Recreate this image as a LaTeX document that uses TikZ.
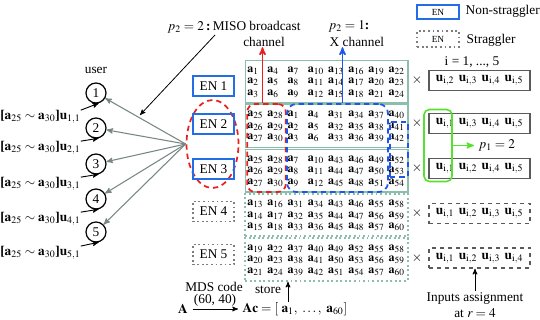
\documentclass[tikz,border=0pt]{standalone}
\usepackage{amsmath}
\usepackage{mathptmx}
\usepackage{fontspec}
\setmainfont{Liberation Serif}
\usepackage{tikz}
\usepackage{xcolor}
\usetikzlibrary{shapes, calc, arrows}
\definecolor{enblue}{RGB}{35,110,230}
\definecolor{matgreen}{RGB}{140,190,172}
\definecolor{laggray}{RGB}{125,125,125}
\definecolor{ugray}{RGB}{90,90,90}
\definecolor{linkgray}{RGB}{120,135,133}
\definecolor{misored}{RGB}{235,30,30}
\definecolor{xblue}{RGB}{30,85,235}
\definecolor{pgreen}{RGB}{85,225,45}
\def\ba{\mathbf a}
\def\bu{\mathbf u}

\begin{document}
\begin{tikzpicture}[x=0.75pt,y=-0.75pt,>=stealth']

    \tikzset{enbox/.style={draw=enblue,line width=1.4pt,minimum width=31pt,minimum height=15pt,inner sep=1pt}}
    \tikzset{lagbox/.style={draw=laggray,line width=1.4pt,dotted,minimum width=31pt,minimum height=15pt,inner sep=1pt}}
    \tikzstyle{user}=[draw,circle,line width=0.9pt,minimum size=15pt,inner sep=0pt]
    \tikzstyle{rowbox}=[draw=matgreen,line width=1pt,minimum width=122pt,minimum height=32pt]
    \tikzstyle{lagrow}=[rowbox,line width=1.4pt,dotted]
    \tikzstyle{entry}=[anchor=base west,inner sep=0pt,font=\small]
    \tikzstyle{ubox}=[draw=ugray,line width=1.2pt,minimum width=76pt,minimum height=15pt,inner sep=1pt]
    \tikzstyle{lagu}=[ubox,dashed]
    \tikzstyle{tolink}=[->,draw=linkgray,line width=0.8pt]
    \tikzstyle{misobox}=[draw=misored,line width=1.3pt,dash pattern=on 4pt off 3pt]
    \tikzstyle{xbox}=[draw=xblue,line width=1.3pt,dash pattern=on 4pt off 3pt]

    \useasboundingbox (0,0) rectangle (540,319);

    % legend
    \node[enbox,minimum height=10.5pt,font=\scriptsize] (legns) at (438,12) {EN};
    \node[anchor=west] (legnstxt) at (461,11) {Non-straggler};
    \node[lagbox,minimum height=12pt,font=\scriptsize] (legst) at (438,39) {EN};
    \node[anchor=west] (legsttxt) at (462,40) {Straggler};

    % channel labels
    \node[anchor=west] (miso) at (163,27) {$p_2=2$\,\textbf{:}\,MISO broadcast};
    \node (misoch) at (264,42) {channel};
    \node[anchor=west] (xlab) at (324,26) {$p_2=1$\textbf{:}};
    \node[anchor=west] (xch) at (325,42) {X channel};
    \coordinate (misofrom) at (215,35);
    \coordinate (misoto) at (140,115);
    \draw[->,line width=0.6pt] (misofrom) -- (misoto);

    % users and edge nodes
    \node (userlab) at (96,70) {user};
    \node[misobox,ellipse,minimum width=39pt,minimum height=66pt,inner sep=0pt] (coop) at (212.5,144) {};
    \foreach \n/\y/\ly in {1/93/117,2/128/148,3/164/184,4/199/219,5/232/253} {
        \node[user] (u\n) at (96,\y) {\n};
        \node[anchor=west,inner sep=0pt] (lab\n) at (0,\ly) {$\textbf{[}\ba_{25}\sim\ba_{30}\textbf{]}\bu_{\n,1}$};
        \draw[->,line width=0.7pt] (lab\n.north east) -- (u\n.285);
        \draw[tolink] (coop.west) -- (u\n);
    }
    \foreach \n/\y/\st in {1/86/enbox,2/124/enbox,3/169/enbox,4/211.5/lagbox,5/254.5/lagbox}
        \node[\st] (en\n) at (213.5,\y) {EN \n};

    % stored coded blocks
    \foreach \nr/\st in {1/rowbox,2/rowbox,3/rowbox,4/lagrow,5/lagrow}
        \node[\st] (row\nr) at (326.5,{81.5+44.5*(\nr-1)}) {};
    \foreach \cols [count=\nr] in {{1,4,7,10,13,16,19,22},{25,28,1,4,31,34,37,40},{25,28,7,10,43,46,49,52},{13,16,31,34,43,46,55,58},{19,22,37,40,49,52,55,58}}
        \foreach \col [count=\cl from 0] in \cols
            \foreach \sr in {0,1,2} {
                \pgfmathtruncatemacro{\idx}{\col+\sr}
                \node[entry] (a-\nr-\cl-\sr) at ({247+20.2*\cl},{72+44.5*(\nr-1)+11.5*\sr}) {$\ba_{\idx}$};
            }

    \node[misobox,rounded corners=6pt,minimum width=29pt,minimum height=66pt] (misoreg) at (266.5,148) {};
    \node[xbox,rounded corners=7pt,minimum width=75.75pt,minimum height=66pt] (xreg) at (337.5,148) {};
    \node[xbox,minimum width=13.5pt,minimum height=41pt] (xsub) at (399,149.5) {};
    \draw[->,misored,line width=1.1pt] ($(misoreg.north)+(-4,0)$) -- ++(0,-56);
    \draw[->,xblue,line width=1.1pt] ($(xreg.north)+(5,0)$) -- ++(0,-56);

    % inputs assignment
    \node (irange) at (472,62) {i = 1, ..., 5};
    \foreach \n/\y/\st/\ua/\ub/\uc/\ud in {1/80.5/ubox/2/3/4/5,2/123.5/ubox/1/3/4/5,3/168.5/ubox/1/2/4/5,4/213.5/lagu/1/2/3/5,5/258/lagu/1/2/3/4} {
        \node (times\n) at (417,\y) {$\times$};
        \node[\st] (ub\n) at (479.5,\y) {$\bu_{\mathrm i,\ua}\;\,\bu_{\mathrm i,\ub}\;\,\bu_{\mathrm i,\uc}\;\,\bu_{\mathrm i,\ud}$};
    }
    \node[draw=pgreen,line width=1.2pt,rounded corners=4pt,minimum width=21pt,minimum height=54pt] (pone) at (438,145.5) {};
    \node[anchor=west] (p1lab) at (474,145.5) {$p_1=2$};
    \draw[->,pgreen,line width=1pt] (pone.east) -- (p1lab.west);

    \node[align=center,inner sep=1pt] (inputs) at (475,305) {Inputs assignment\\at $r=4$};
    \draw[->,line width=0.6pt] (inputs.north) -- (inputs.north |- ub5.south);

    % encoding
    \node (mds) at (214,287) {MDS code};
    \node (rate) at (215,300) {(60, 40)};
    \node (amat) at (183,309) {$\mathbf A$};
    \node[anchor=west] (ac) at (238,309) {$\mathbf{Ac}=[\ \ba_1,\ \ldots,\ \ba_{60}]$};
    \draw[->,line width=0.6pt] (amat) -- (ac);
    \node (store) at (268,290) {store};
    \coordinate (storefrom) at (288,302);
    \draw[->,line width=0.6pt] (storefrom) -- (storefrom |- row5.south);

\end{tikzpicture}
\end{document}
